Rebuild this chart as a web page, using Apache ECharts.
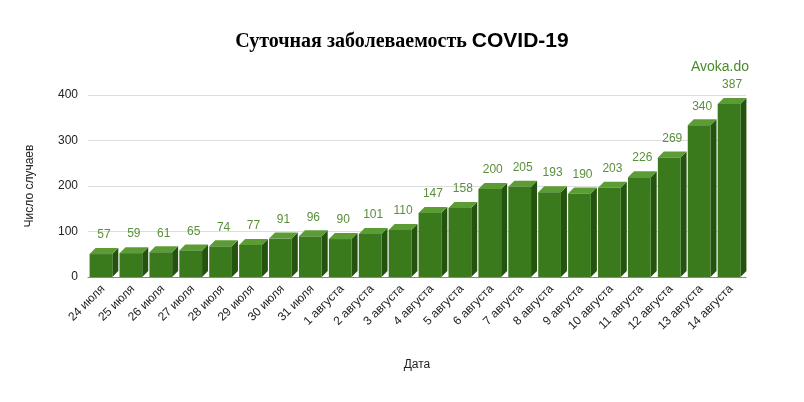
<!DOCTYPE html>
<html><head><meta charset="utf-8">
<script src="https://cdn.jsdelivr.net/npm/echarts@6/dist/echarts.min.js"></script>
<style>html,body{margin:0;padding:0;background:#fff}#c{width:804px;height:402px}</style>
</head><body><div id="c"></div>
<script>
const categories = ["24 июля","25 июля","26 июля","27 июля","28 июля","29 июля","30 июля","31 июля","1 августа","2 августа","3 августа","4 августа","5 августа","6 августа","7 августа","8 августа","9 августа","10 августа","11 августа","12 августа","13 августа","14 августа"];
const values = [57,59,61,65,74,77,91,96,90,101,110,147,158,200,205,193,190,203,226,269,340,387];
const yTicks = [0,100,200,300,400];

const chart = echarts.init(document.getElementById('c'));
chart.setOption({
  animation:false,
  title:{text:'{a|Суточная заболеваемость }{b|COVID-19}',left:'center',top:26,
    textStyle:{rich:{a:{fontFamily:'Liberation Serif',fontSize:20,color:'#000'},
                     b:{fontFamily:'Liberation Sans',fontWeight:'bold',fontSize:21,color:'#000'}}}},
  graphic:[{type:'text',right:55,top:60,style:{text:'Avoka.do',fill:'#4a8a2a',font:'14px Liberation Sans'}}],
  grid:{left:88,right:58,top:95,bottom:125},
  xAxis:{type:'category',data:categories,name:'Дата',nameLocation:'middle',nameGap:82,
    nameTextStyle:{fontFamily:'Liberation Sans',fontSize:12,color:'#222'},
    axisTick:{show:false},axisLine:{lineStyle:{color:'#888'}},
    axisLabel:{rotate:45,fontFamily:'Liberation Sans',fontSize:12,color:'#222',interval:0,margin:10}},
  yAxis:{type:'value',min:0,max:400,interval:100,name:'Число случаев',nameLocation:'middle',nameGap:52,
    nameTextStyle:{fontFamily:'Liberation Sans',fontSize:12,color:'#222'},
    axisLabel:{fontFamily:'Liberation Sans',fontSize:12,color:'#222',margin:10},
    splitLine:{lineStyle:{color:'#ddd'}}},
  series:[{type:'custom',data:values.map((v,i)=>[i,v]),
    renderItem:function(params,api){
      const base=api.coord([api.value(0),0]);
      const top=api.coord([api.value(0),api.value(1)]);
      const w=api.size([1,0])[0]*0.76;
      const d=6;
      const x0=base[0]-w/2-2, x1=x0+w, y0=top[1]+3, y1=base[1];
      return {type:'group',children:[
        {type:'polygon',shape:{points:[[x1,y0],[x1+d,y0-d],[x1+d,y1-d],[x1,y1]]},style:{fill:'#24530f'}},
        {type:'polygon',shape:{points:[[x0,y0],[x0+d,y0-d],[x1+d,y0-d],[x1,y0]]},style:{fill:'#5c9c34'}},
        {type:'rect',shape:{x:x0,y:y0,width:w,height:y1-y0},style:{fill:'#3a7a1c'}},
        {type:'text',style:{text:String(api.value(1)),x:(x0+x1)/2+d/2,y:y0-d-7,align:'center',verticalAlign:'bottom',
          fill:'#5a8f3a',font:'12px Liberation Sans'}}
      ]};
    }}]
});
</script></body></html>
